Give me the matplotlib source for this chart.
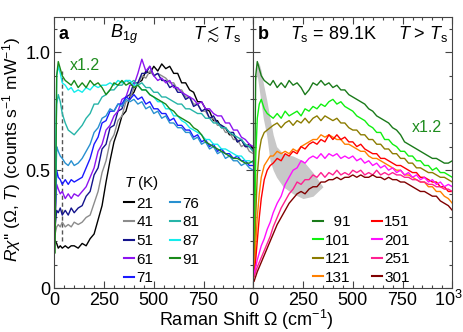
import matplotlib
matplotlib.use("Agg")
import matplotlib.pyplot as plt
from matplotlib.ticker import MultipleLocator

plt.rcParams['font.family'] = ['Liberation Sans', 'DejaVu Sans']
plt.rcParams['mathtext.fontset'] = 'custom'
plt.rcParams['mathtext.rm'] = 'Liberation Sans'
plt.rcParams['mathtext.it'] = 'Liberation Sans:italic'
plt.rcParams['mathtext.bf'] = 'Liberation Sans:bold'
plt.rcParams['mathtext.fallback'] = 'stixsans'

# Raman shift grid (cm^-1)
OMEGA = [4, 12, 20, 30, 40, 55, 70, 85, 100, 120, 140, 160, 180, 200, 220, 240, 260, 280, 300,
         320, 340, 360, 380, 400, 420, 440, 460, 480, 500, 520, 540, 560, 580, 600, 620, 640,
         660, 680, 700, 720, 740, 760, 780, 800, 820, 840, 860, 880, 900, 920, 940, 960, 980, 1000]

# ---- panel a: T <~ Ts ----
T21 = [0.20, 0.19, 0.17, 0.18, 0.17, 0.18, 0.17, 0.18, 0.18, 0.17, 0.19, 0.18, 0.21, 0.23, 0.29, 0.35, 0.45, 0.54,
       0.62, 0.67, 0.73, 0.75, 0.81, 0.83, 0.87, 0.88, 0.92, 0.91, 0.94, 0.92, 0.95, 0.93, 0.94, 0.91, 0.91, 0.87,
       0.87, 0.84, 0.83, 0.79, 0.79, 0.76, 0.75, 0.71, 0.71, 0.68, 0.68, 0.65, 0.65, 0.62, 0.63, 0.60, 0.61, 0.59]
T41 = [0.23, 0.26, 0.27, 0.26, 0.28, 0.26, 0.27, 0.26, 0.28, 0.27, 0.28, 0.30, 0.31, 0.36, 0.41, 0.49, 0.54, 0.62,
       0.65, 0.71, 0.73, 0.79, 0.80, 0.85, 0.86, 0.90, 0.89, 0.92, 0.90, 0.91, 0.90, 0.89, 0.87, 0.87, 0.84, 0.84,
       0.81, 0.81, 0.78, 0.78, 0.75, 0.75, 0.72, 0.72, 0.69, 0.69, 0.66, 0.66, 0.63, 0.63, 0.60, 0.61, 0.58, 0.57]
T51 = [0.26, 0.33, 0.32, 0.34, 0.31, 0.33, 0.31, 0.34, 0.32, 0.34, 0.35, 0.39, 0.41, 0.48, 0.51, 0.59, 0.61, 0.68,
       0.69, 0.75, 0.76, 0.81, 0.82, 0.87, 0.87, 0.91, 0.91, 0.94, 0.90, 0.91, 0.88, 0.88, 0.85, 0.86, 0.83, 0.83,
       0.80, 0.81, 0.77, 0.78, 0.75, 0.76, 0.72, 0.73, 0.70, 0.69, 0.68, 0.66, 0.66, 0.62, 0.63, 0.60, 0.60, 0.58]
T61 = [0.30, 0.44, 0.42, 0.40, 0.41, 0.38, 0.40, 0.38, 0.40, 0.39, 0.41, 0.43, 0.47, 0.51, 0.58, 0.61, 0.67, 0.69,
       0.73, 0.75, 0.80, 0.81, 0.86, 0.86, 0.91, 0.97, 0.92, 0.94, 0.90, 0.88, 0.89, 0.87, 0.88, 0.85, 0.85, 0.83,
       0.82, 0.81, 0.80, 0.78, 0.79, 0.76, 0.76, 0.74, 0.73, 0.73, 0.70, 0.70, 0.67, 0.67, 0.64, 0.63, 0.61, 0.60]
T71 = [0.30, 0.50, 0.47, 0.46, 0.44, 0.46, 0.44, 0.46, 0.45, 0.46, 0.47, 0.51, 0.55, 0.61, 0.64, 0.70, 0.71, 0.75,
       0.75, 0.78, 0.78, 0.81, 0.80, 0.82, 0.80, 0.81, 0.78, 0.79, 0.76, 0.76, 0.74, 0.74, 0.71, 0.72, 0.69, 0.69,
       0.67, 0.67, 0.64, 0.65, 0.62, 0.63, 0.60, 0.61, 0.58, 0.59, 0.57, 0.57, 0.55, 0.56, 0.54, 0.54, 0.52, 0.52]
T76 = [0.32, 0.60, 0.58, 0.56, 0.55, 0.53, 0.52, 0.54, 0.52, 0.53, 0.55, 0.58, 0.61, 0.66, 0.68, 0.72, 0.73, 0.76,
       0.75, 0.78, 0.77, 0.80, 0.79, 0.80, 0.78, 0.79, 0.76, 0.77, 0.74, 0.75, 0.72, 0.73, 0.70, 0.70, 0.68, 0.68,
       0.66, 0.66, 0.63, 0.64, 0.61, 0.62, 0.59, 0.60, 0.57, 0.58, 0.55, 0.56, 0.54, 0.54, 0.52, 0.53, 0.51, 0.50]
T81 = [0.40, 0.78, 0.82, 0.79, 0.74, 0.70, 0.67, 0.66, 0.65, 0.67, 0.69, 0.72, 0.74, 0.78, 0.78, 0.81, 0.82, 0.84,
       0.84, 0.86, 0.86, 0.88, 0.87, 0.88, 0.86, 0.87, 0.85, 0.85, 0.83, 0.83, 0.81, 0.81, 0.80, 0.79, 0.78, 0.78,
       0.76, 0.76, 0.75, 0.74, 0.74, 0.72, 0.72, 0.70, 0.70, 0.68, 0.68, 0.66, 0.65, 0.64, 0.63, 0.61, 0.60, 0.58]
T87 = [0.25, 0.90, 0.94, 0.91, 0.87, 0.86, 0.84, 0.85, 0.83, 0.84, 0.83, 0.85, 0.84, 0.86, 0.85, 0.86, 0.86, 0.87,
       0.86, 0.88, 0.87, 0.88, 0.88, 0.86, 0.86, 0.84, 0.84, 0.82, 0.81, 0.79, 0.79, 0.76, 0.76, 0.73, 0.73, 0.71,
       0.70, 0.68, 0.67, 0.66, 0.65, 0.63, 0.63, 0.61, 0.61, 0.59, 0.59, 0.58, 0.57, 0.56, 0.56, 0.54, 0.54, 0.53]
# 91 K (shown x1.2, in both panels)
T91 = [0.15, 0.90, 0.96, 0.93, 0.90, 0.88, 0.87, 0.86, 0.88, 0.85, 0.87, 0.85, 0.88, 0.86, 0.87, 0.85, 0.82, 0.84,
       0.87, 0.86, 0.88, 0.86, 0.87, 0.85, 0.86, 0.84, 0.84, 0.82, 0.81, 0.80, 0.79, 0.78, 0.76, 0.75, 0.73, 0.72,
       0.71, 0.70, 0.68, 0.67, 0.65, 0.62, 0.61, 0.60, 0.59, 0.58, 0.57, 0.56, 0.55, 0.55, 0.54, 0.53, 0.53, 0.54]

# ---- panel b: T > Ts ----
T101 = [0.08, 0.55, 0.72, 0.78, 0.80, 0.76, 0.74, 0.73, 0.72, 0.74, 0.72, 0.75, 0.73, 0.74, 0.75, 0.73, 0.76, 0.75,
        0.77, 0.76, 0.78, 0.77, 0.79, 0.80, 0.78, 0.79, 0.77, 0.76, 0.75, 0.73, 0.72, 0.71, 0.69, 0.68, 0.66, 0.66,
        0.63, 0.63, 0.61, 0.60, 0.58, 0.58, 0.56, 0.56, 0.54, 0.54, 0.52, 0.52, 0.50, 0.51, 0.49, 0.49, 0.48, 0.47]
T121 = [0.06, 0.30, 0.48, 0.58, 0.63, 0.66, 0.67, 0.68, 0.69, 0.70, 0.68, 0.70, 0.71, 0.69, 0.71, 0.70, 0.72, 0.70,
        0.72, 0.73, 0.71, 0.73, 0.72, 0.71, 0.72, 0.70, 0.70, 0.68, 0.67, 0.67, 0.65, 0.65, 0.63, 0.63, 0.61, 0.61,
        0.59, 0.59, 0.57, 0.57, 0.55, 0.55, 0.53, 0.53, 0.51, 0.51, 0.50, 0.49, 0.49, 0.48, 0.47, 0.47, 0.46, 0.45]
T131 = [0.05, 0.18, 0.30, 0.40, 0.47, 0.52, 0.54, 0.56, 0.56, 0.58, 0.57, 0.58, 0.57, 0.59, 0.58, 0.60, 0.61, 0.62,
        0.63, 0.63, 0.65, 0.64, 0.65, 0.64, 0.63, 0.63, 0.61, 0.61, 0.60, 0.59, 0.58, 0.58, 0.56, 0.55, 0.55, 0.54,
        0.53, 0.52, 0.51, 0.50, 0.50, 0.48, 0.48, 0.47, 0.46, 0.45, 0.45, 0.43, 0.43, 0.41, 0.41, 0.39, 0.38, 0.36]
T151 = [0.05, 0.12, 0.20, 0.30, 0.38, 0.46, 0.50, 0.52, 0.53, 0.55, 0.54, 0.57, 0.56, 0.58, 0.57, 0.60, 0.59, 0.61,
        0.62, 0.61, 0.63, 0.62, 0.65, 0.63, 0.65, 0.63, 0.64, 0.62, 0.62, 0.60, 0.61, 0.59, 0.58, 0.57, 0.57, 0.55,
        0.55, 0.54, 0.53, 0.52, 0.52, 0.51, 0.50, 0.49, 0.49, 0.47, 0.47, 0.46, 0.45, 0.45, 0.43, 0.43, 0.41, 0.41]
T201 = [0.06, 0.09, 0.12, 0.15, 0.18, 0.21, 0.25, 0.28, 0.32, 0.36, 0.39, 0.44, 0.47, 0.50, 0.51, 0.54, 0.53, 0.55,
        0.56, 0.55, 0.57, 0.55, 0.57, 0.56, 0.57, 0.55, 0.56, 0.55, 0.56, 0.54, 0.55, 0.53, 0.54, 0.52, 0.53, 0.51,
        0.52, 0.50, 0.51, 0.49, 0.50, 0.48, 0.49, 0.47, 0.48, 0.46, 0.47, 0.45, 0.46, 0.44, 0.45, 0.43, 0.44, 0.43]
T251 = [0.05, 0.07, 0.09, 0.11, 0.13, 0.16, 0.19, 0.22, 0.26, 0.30, 0.34, 0.37, 0.40, 0.42, 0.45, 0.44, 0.46, 0.46,
        0.48, 0.47, 0.49, 0.47, 0.49, 0.48, 0.50, 0.48, 0.49, 0.48, 0.50, 0.49, 0.50, 0.48, 0.49, 0.48, 0.50, 0.48,
        0.49, 0.48, 0.49, 0.48, 0.48, 0.47, 0.47, 0.46, 0.46, 0.45, 0.45, 0.44, 0.44, 0.43, 0.43, 0.42, 0.42, 0.41]
T301 = [0.03, 0.05, 0.07, 0.09, 0.11, 0.14, 0.17, 0.20, 0.23, 0.27, 0.30, 0.33, 0.36, 0.38, 0.40, 0.41, 0.40, 0.42,
        0.43, 0.43, 0.45, 0.45, 0.46, 0.46, 0.47, 0.46, 0.47, 0.47, 0.48, 0.47, 0.48, 0.47, 0.47, 0.48, 0.47, 0.47,
        0.46, 0.47, 0.46, 0.46, 0.45, 0.45, 0.44, 0.43, 0.42, 0.41, 0.41, 0.40, 0.39, 0.39, 0.37, 0.36, 0.35, 0.33]

# grey band in panel b
BAND_OMEGA = [12, 20, 30, 40, 50, 67, 84, 100, 117, 150, 200, 250, 300, 350]
BAND_UPPER = [0.90, 0.96, 0.95, 0.92, 0.87, 0.80, 0.72, 0.65, 0.60, 0.57, 0.56, 0.54, 0.49, 0.43]
BAND_LOWER = [0.88, 0.90, 0.84, 0.78, 0.72, 0.65, 0.54, 0.50, 0.47, 0.43, 0.40, 0.38, 0.39, 0.43]

DASH_OMEGA = 37
DASH_RANGE = [0.20, 0.92]

LEFT_LABELS = ['21', '41', '51', '61', '71', '76', '81', '87', '91']
LEFT_SERIES = [T21, T41, T51, T61, T71, T76, T81, T87, T91]
LEFT_COLORS = ['#000000', '#8c8c8c', '#14148c', '#8c14f0', '#1a1aff', '#2890d0', '#26b4a8', '#14ecec', '#1a8a1a']

RIGHT_LABELS = ['  91', '101', '121', '131', '151', '201', '251', '301']
RIGHT_SERIES = [T91, T101, T121, T131, T151, T201, T251, T301]
RIGHT_COLORS = ['#1a7a1a', '#10f010', '#8c7c00', '#ff8000', '#ff0000', '#ff10ff', '#ff2090', '#800000']

XTICKS = [0, 250, 500, 750, 1000]
XLABELS = ['0', '250', '500', '750', '']

for s in LEFT_SERIES + RIGHT_SERIES:
    assert len(s) == len(OMEGA)

W, H = 463, 332
fig = plt.figure(figsize=(W / 100, H / 100), dpi=100)
axL = fig.add_axes([54.3 / W, (H - 288.3) / H, 199 / W, 271.6 / H])
axR = fig.add_axes([253.3 / W, (H - 288.3) / H, 199 / W, 271.6 / H])

FS = 13      # tick labels, axis label, panel texts
LFS = 11     # legend
for ax in (axL, axR):
    ax.set_xlim(0, 1000)
    ax.set_ylim(0, 1.15)
    ax.xaxis.set_minor_locator(MultipleLocator(50))
    ax.yaxis.set_major_locator(MultipleLocator(0.5))
    ax.yaxis.set_minor_locator(MultipleLocator(0.1))
    ax.tick_params(which='both', direction='in', top=True, right=True, color='#444444', width=0.8,
                   labelsize=FS, pad=3)
    ax.tick_params(which='major', length=5)
    ax.tick_params(which='minor', length=2.5)
    for sp in ax.spines.values():
        sp.set_color('#444444')
        sp.set_linewidth(0.8)
    ax.set_xticks(XTICKS)
    ax.set_xticklabels(XLABELS)

axL.set_yticks([0, 0.5, 1.0])
axL.set_yticklabels(['0', '0.5', '1.0'])
axR.set_yticks([0, 0.5, 1.0])
axR.set_yticklabels([])
# last x label of panel b, at the figure edge as in the original
axR.text(1.0 + 10.5 / 199, -12 / 271.6, '10$^3$', transform=axR.transAxes, fontsize=FS,
         ha='right', va='center')

# panel a
axL.plot([DASH_OMEGA, DASH_OMEGA], DASH_RANGE, ls=(0, (3, 2)), color='#555555', lw=1.0, zorder=1)
for lab, ser, col in zip(LEFT_LABELS, LEFT_SERIES, LEFT_COLORS):
    axL.plot(OMEGA, ser, color=col, lw=1.0, label=lab, zorder=2)
legL = axL.legend(ncol=2, title='$T$ (K)', frameon=False, loc='upper left', bbox_to_anchor=(0.35, 0.42),
                  fontsize=LFS, title_fontsize=LFS, handlelength=0.65, handletextpad=0.15, columnspacing=1.1,
                  labelspacing=0.30, borderpad=0, borderaxespad=0, alignment='left')
for h in legL.legend_handles:
    h.set_linewidth(1.5)

axL.text(0.02, 0.935, 'a', transform=axL.transAxes, fontsize=FS, fontweight='bold', va='center', ha='left')
axL.text(0.28, 0.935, '$B_{1g}$', transform=axL.transAxes, fontsize=FS, va='center', ha='left')
axL.text(0.94, 0.935, r'$T \lesssim T_\mathrm{s}$', transform=axL.transAxes, fontsize=FS, va='center', ha='right')
axL.text(80, 0.944, 'x1.2', color='#1e8c1e', fontsize=11.5, va='center', ha='left')

# panel b
axR.fill_between(BAND_OMEGA, BAND_LOWER, BAND_UPPER, color='#c8c8c8', lw=0, zorder=1)
for lab, ser, col in zip(RIGHT_LABELS, RIGHT_SERIES, RIGHT_COLORS):
    axR.plot(OMEGA, ser, color=col, lw=1.0, label=lab, zorder=2)
legR = axR.legend(ncol=2, frameon=False, loc='upper left', bbox_to_anchor=(0.30, 0.27),
                  fontsize=LFS, handlelength=0.65, handletextpad=0.15, columnspacing=1.4,
                  labelspacing=0.30, borderpad=0, borderaxespad=0)
for h in legR.legend_handles:
    h.set_linewidth(1.5)

axR.text(0.024, 0.935, 'b', transform=axR.transAxes, fontsize=FS, fontweight='bold', va='center', ha='left')
axR.text(0.184, 0.935, r'$T_\mathrm{s}$ = 89.1K', transform=axR.transAxes, fontsize=FS, va='center', ha='left')
axR.text(0.978, 0.935, r'$T$ > $T_\mathrm{s}$', transform=axR.transAxes, fontsize=FS, va='center', ha='right')
axR.text(797, 0.682, 'x1.2', color='#1e8c1e', fontsize=11.5, va='center', ha='left')

fig.text(246 / W, (H - 320) / H, r'Raman Shift $\Omega$ (cm$^{-1}$)', fontsize=FS, ha='center', va='center')
fig.text(12 / W, (H - 149) / H, r"$R\chi$'' ($\Omega$, $T$) (counts s$^{-1}$ mW$^{-1}$)", fontsize=12.5,
         rotation=90, ha='center', va='center')

fig.savefig('out.png', dpi=100)
